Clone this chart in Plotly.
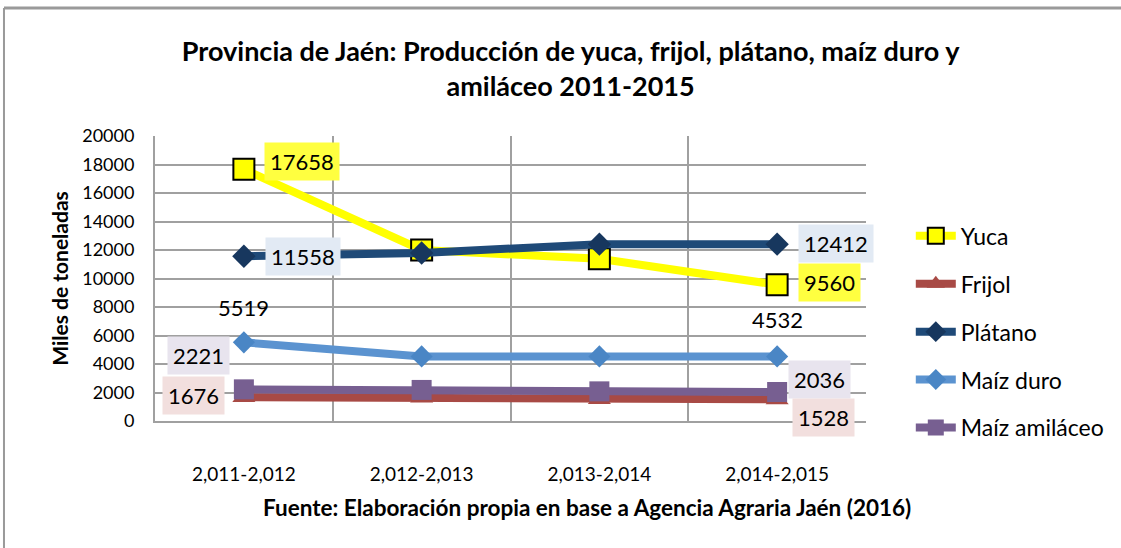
import plotly.graph_objects as go

categories = ["2,011-2,012", "2,012-2,013", "2,013-2,014", "2,014-2,015"]
yuca = [17658, 12000, 11380, 9560]
frijol = [1676, 1650, 1550, 1528]
platano = [11558, 11790, 12412, 12412]
maiz_duro = [5519, 4532, 4532, 4532]
maiz_amilaceo = [2221, 2180, 2080, 2036]
y_ticks = list(range(0, 20001, 2000))

FONT = "Lato"
xpos = list(range(len(categories)))

fig = go.Figure()

series = [
    ("Yuca", yuca, "#ffff00", dict(symbol="square", size=21, color="#ffff00", line=dict(color="black", width=2))),
    ("Frijol", frijol, "#a84a45", dict(symbol="triangle-up", size=20, color="#a84a45")),
    ("Plátano", platano, "#1f4a78", dict(symbol="diamond", size=18, color="#17375e")),
    ("Maíz duro", maiz_duro, "#5b93d0", dict(symbol="diamond", size=17, color="#4a86c5")),
    ("Maíz amiláceo", maiz_amilaceo, "#775f91", dict(symbol="square", size=20, color="#775f91")),
]
for i, (name, vals, col, mk) in enumerate(series):
    fig.add_trace(go.Scatter(
        x=xpos, y=vals, name=name, mode="lines+markers",
        line=dict(color=col, width=8), marker=mk, legendgroup=str(i),
    ))

def lab(xi, val, bg, xanchor, xshift=0, yshift=0):
    fig.add_annotation(
        x=xpos[xi], y=val, text=str(val), showarrow=False,
        xanchor=xanchor, yanchor="middle", xshift=xshift, yshift=yshift,
        bgcolor=bg, font=dict(family=FONT, size=22, color="black"),
        borderpad=5,
    )

lab(0, yuca[0], "#ffff40", "left", xshift=20, yshift=8)
lab(3, yuca[3], "#ffff40", "left", xshift=21, yshift=2)
lab(0, platano[0], "#e2eaf4", "left", xshift=21, yshift=0)
lab(3, platano[3], "#e2eaf4", "left", xshift=21, yshift=1)
lab(0, maiz_duro[0], None, "center", yshift=35)
lab(3, maiz_duro[3], None, "center", yshift=37)
lab(0, maiz_amilaceo[0], "#e8e4ee", "right", xshift=-14, yshift=34)
lab(3, maiz_amilaceo[3], "#e8e4ee", "left", xshift=11, yshift=12)
lab(0, frijol[0], "#f2dfde", "right", xshift=-19, yshift=2)
lab(3, frijol[3], "#f2dfde", "left", xshift=15, yshift=-18)

fig.add_annotation(
    text="<b>Fuente: Elaboración propia en base a Agencia Agraria Jaén (2016)</b>",
    xref="paper", yref="paper", x=0.608, y=-0.305, xanchor="center", yanchor="middle",
    showarrow=False, font=dict(family=FONT, size=22.5, color="black"),
)

fig.update_layout(
    width=1121, height=548,
    margin=dict(l=155, r=255, t=136, b=127, autoexpand=False),
    paper_bgcolor="white", plot_bgcolor="white",
    font=dict(family=FONT, color="black"),
    title=dict(
        text="<b>Provincia de Jaén: Producción de yuca, frijol, plátano, maíz duro y<br>amiláceo 2011-2015</b>",
        x=0.509, xanchor="center", xref="container", y=0.889, yanchor="top", yref="container",
        font=dict(family=FONT, size=27, color="black"),
    ),
    showlegend=True,
    legend=dict(
        x=1.063, xanchor="left", y=0.725, yanchor="top",
        font=dict(family=FONT, size=23, color="black"),
        tracegroupgap=15, itemwidth=40, bgcolor="rgba(0,0,0,0)",
    ),
    xaxis=dict(
        range=[-0.5, 3.5], tickvals=xpos, ticktext=categories, automargin=False,
        showgrid=False, zeroline=False, showline=True, linecolor="#a0a0a0", linewidth=2,
        ticks="", tickfont=dict(family=FONT, size=19),
        minor=dict(tick0=0.5, dtick=1, showgrid=True, gridcolor="#a0a0a0", gridwidth=2),
        ticklabelstandoff=35,
    ),
    yaxis=dict(
        range=[0, 20000], tickvals=y_ticks, tickformat="d", automargin=False,
        showgrid=True, gridcolor="#a0a0a0", gridwidth=2, zeroline=False,
        showline=True, linecolor="#a0a0a0", linewidth=2,
        ticks="", tickfont=dict(family=FONT, size=18), ticklabelstandoff=15,
        title=dict(text="<b>Miles de toneladas</b>", font=dict(family=FONT, size=21), standoff=8),
    ),
)

# chart frame (top and left edges visible in the reference)
fig.add_shape(type="line", xref="paper", yref="paper",
              x0=-0.2124, x1=1.6, y0=1.449, y1=1.449,
              line=dict(color="#9a9a9a", width=3), layer="below")
fig.add_shape(type="line", xref="paper", yref="paper",
              x0=-0.2124, x1=-0.2124, y0=-0.6, y1=1.449,
              line=dict(color="#9a9a9a", width=2), layer="below")

fig.write_html("out.html", config={"displayModeBar": False},
               post_script="document.body.style.margin='0px';")
